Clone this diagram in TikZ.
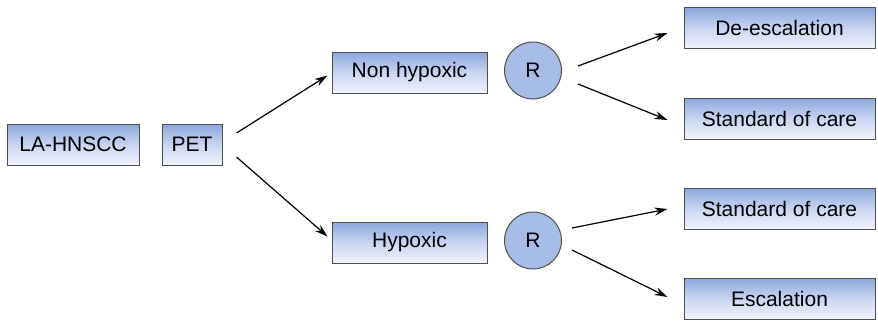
\documentclass[tikz,border=0pt]{standalone}
\usepackage{fontspec}
\setmainfont{Liberation Sans}
\usetikzlibrary{arrows.meta,calc}
\definecolor{boxtop}{HTML}{8CA6DC}
\definecolor{boxmid}{HTML}{C9D5F0}
\definecolor{boxbot}{HTML}{F1F3FB}
\definecolor{circfill}{HTML}{A8BDE6}
\definecolor{edgegray}{HTML}{505050}
\tikzset{
  stepbox/.style={rectangle, draw=edgegray, line width=1pt,
    top color=boxtop, bottom color=boxbot, middle color=boxmid,
    minimum height=41pt, inner sep=0pt, font=\fontsize{21}{25}\selectfont},
  rnode/.style={circle, draw=edgegray, line width=1pt, fill=circfill,
    minimum size=57pt, inner sep=0pt, font=\fontsize{21}{25}\selectfont},
  arr/.style={-{Stealth[length=13pt,width=8pt]}, line width=1.2pt, black},
}
\begin{document}
\begin{tikzpicture}[x=1pt,y=-1pt]
\useasboundingbox (0,0) rectangle (878,322);
\node[stepbox, minimum width=132pt] (la) at (73,144.5) {LA-HNSCC};
\node[stepbox, minimum width=60pt] (pet) at (192,144.5) {PET};
\node[stepbox, minimum width=155pt] (nonhyp) at (409.5,72.5) {Non hypoxic};
\node[stepbox, minimum width=155pt] (hyp) at (409.5,242.5) {Hypoxic};
\node[rnode] (r1) at (533,70.5) {R};
\node[rnode] (r2) at (533,240.5) {R};
\node[stepbox, minimum width=191pt] (deesc) at (779.5,28) {De-escalation};
\node[stepbox, minimum width=191pt] (soc1) at (779.5,118.5) {Standard of care};
\node[stepbox, minimum width=191pt] (soc2) at (779.5,208.5) {Standard of care};
\node[stepbox, minimum width=191pt] (esc) at (779.5,298.5) {Escalation};

\draw[arr] ($(pet.east)+(14,-11.5)$) -- ($(nonhyp.west)+(-4,3)$);
\draw[arr] ($(pet.east)+(14,12.5)$) -- ($(hyp.west)+(-4,-6)$);
\draw[arr] ($(r1.east)+(16,-4.5)$) -- ($(deesc.west)+(-16,5)$);
\draw[arr] ($(r1.east)+(16,13.5)$) -- ($(soc1.west)+(-16,1.5)$);
\draw[arr] ($(r2.east)+(10,-12.5)$) -- ($(soc2.west)+(-16,0.5)$);
\draw[arr] ($(r2.east)+(10,9.5)$) -- ($(esc.west)+(-16,-1.5)$);
\end{tikzpicture}
\end{document}
